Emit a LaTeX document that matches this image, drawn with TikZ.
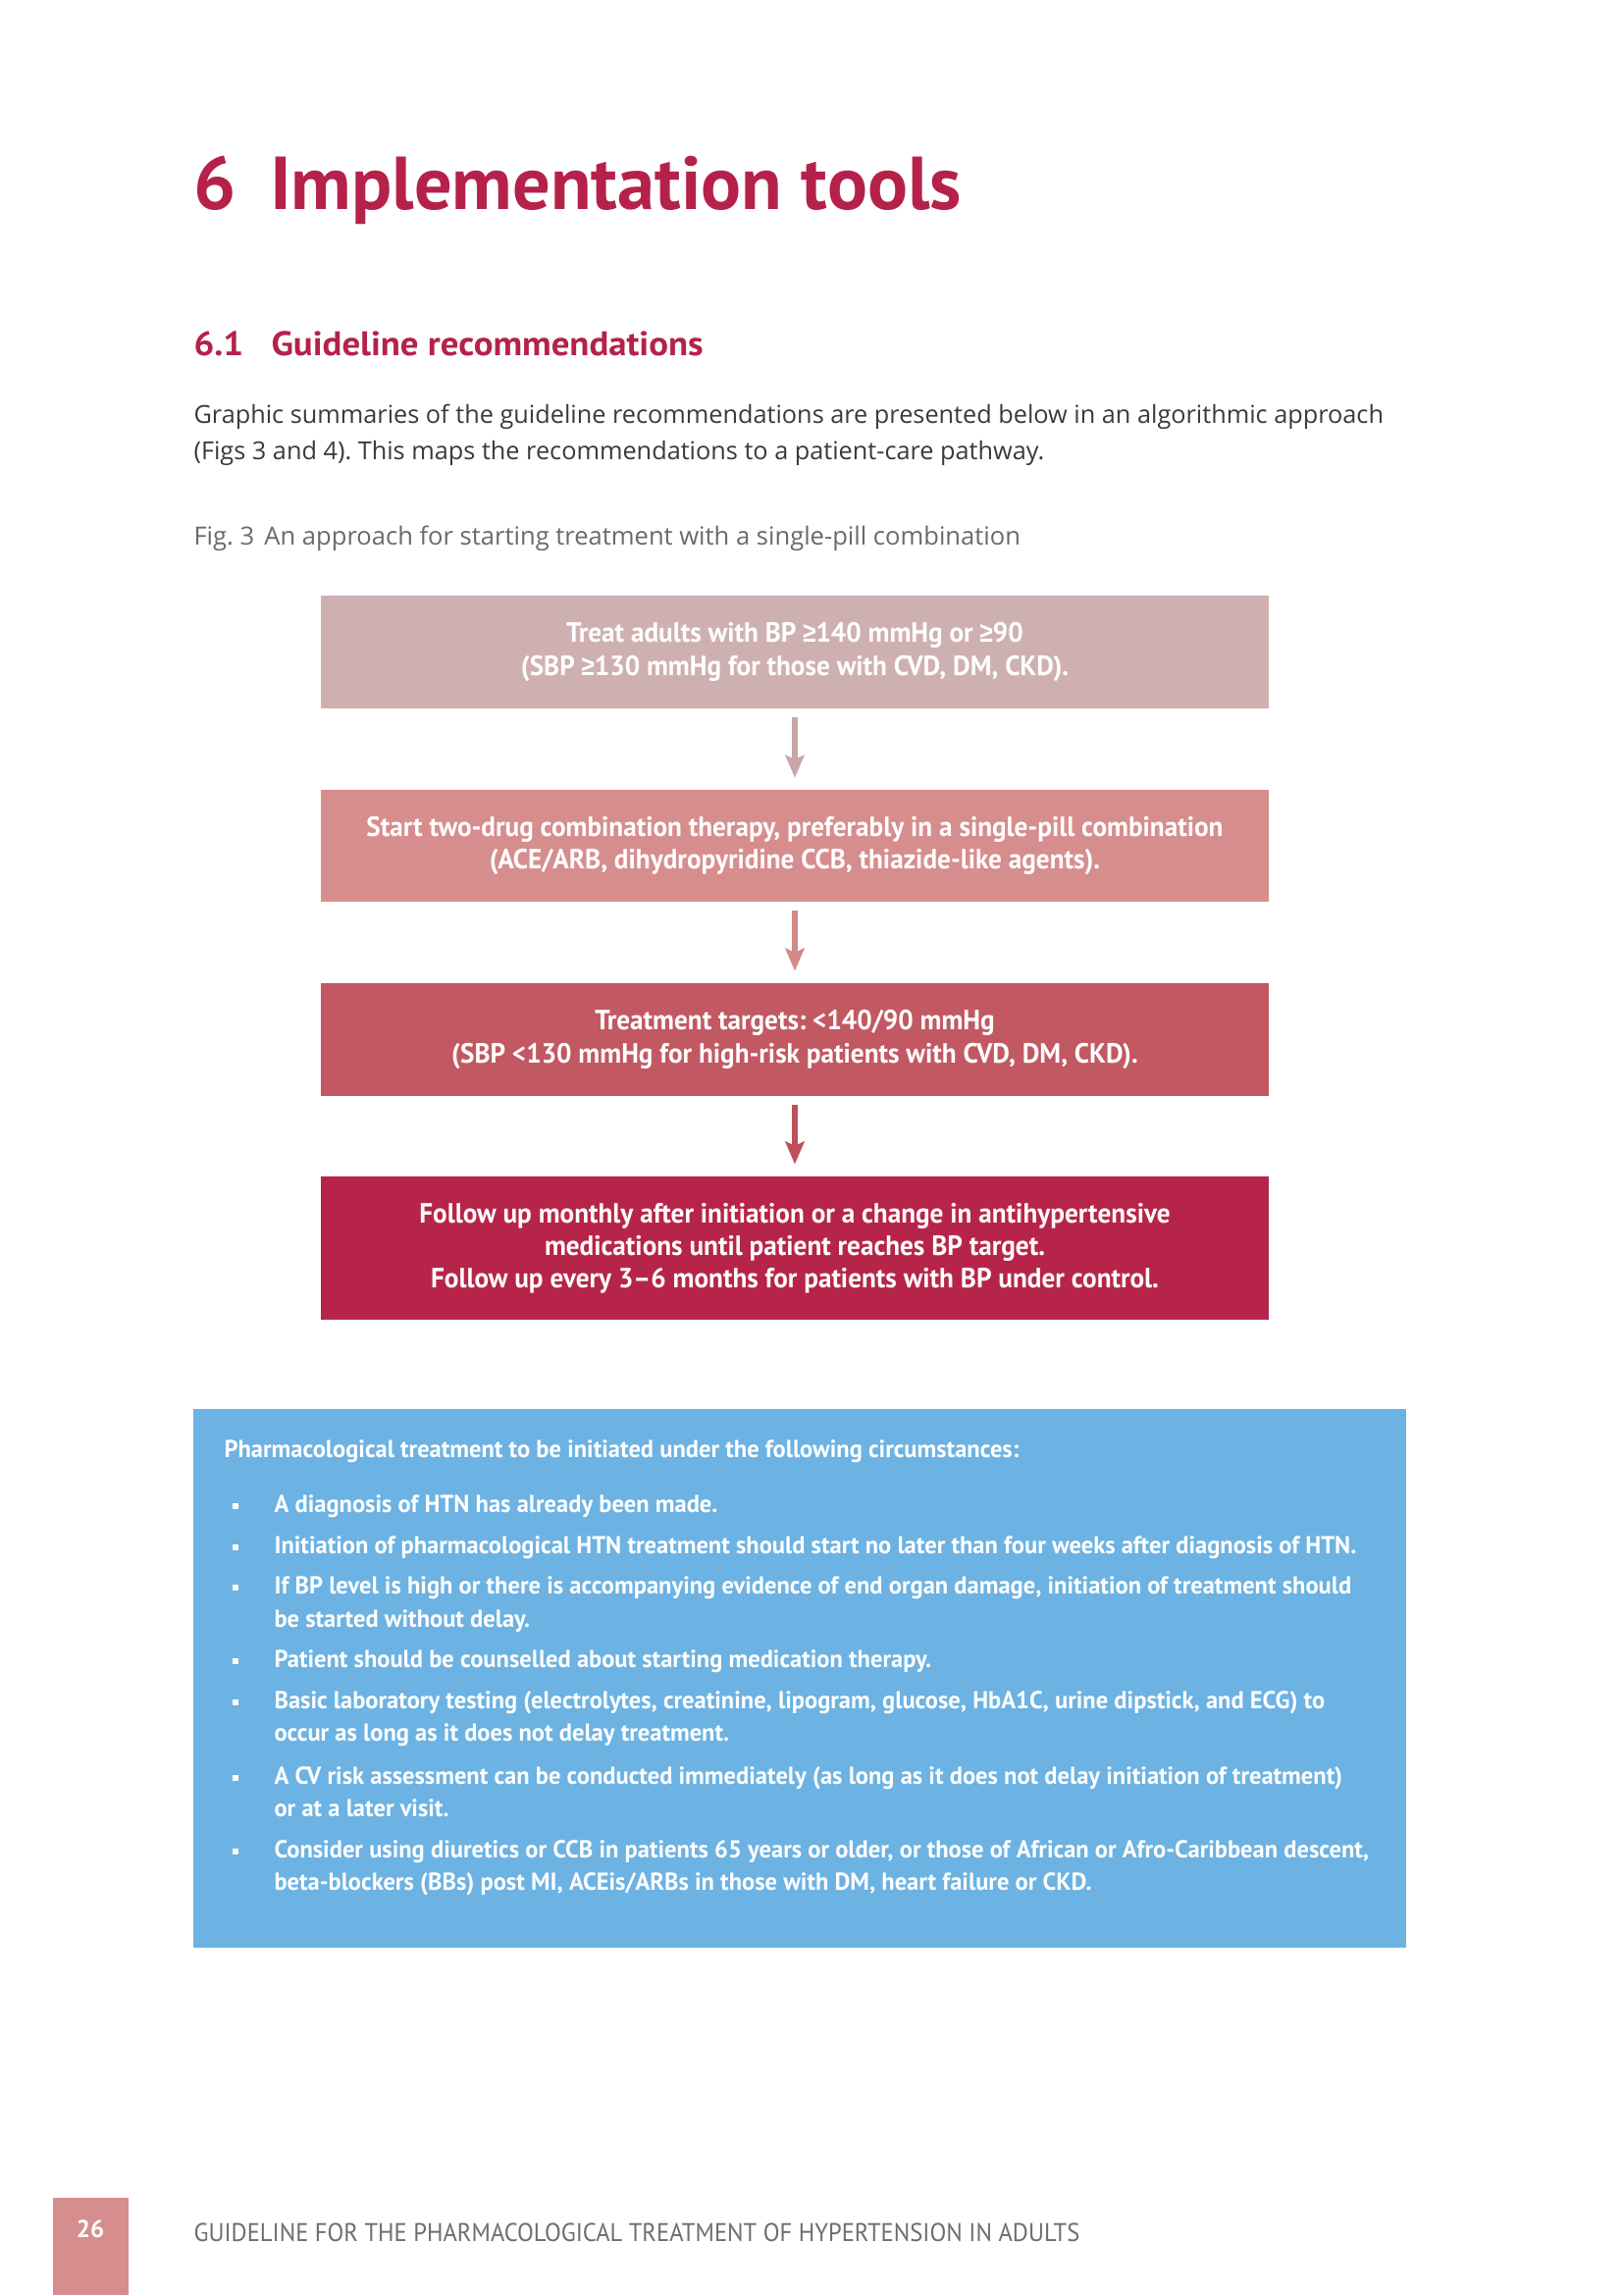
\documentclass[tikz,border=0pt]{standalone}
\usepackage{fontspec}
\setmainfont{Open Sans}
\frenchspacing
\newfontfamily\hfont{PT Sans}
\newfontfamily\sfont[FakeStretch=1.06]{PT Sans}
\newfontfamily\cfont[FakeStretch=0.96]{PT Sans}
\newfontfamily\bfont[FakeStretch=0.98]{PT Sans}
\newfontfamily\ffont[FakeStretch=0.94]{PT Sans}
\newfontfamily\symf[FakeStretch=0.85]{Liberation Sans}
\newcommand{\gq}{{\symf\bfseries ≥}}
\definecolor{crimson}{HTML}{B52149}
\definecolor{boxa}{HTML}{CFB0B1}
\definecolor{boxb}{HTML}{D68D8E}
\definecolor{boxc}{HTML}{C25862}
\definecolor{boxd}{HTML}{B72449}
\definecolor{arra}{HTML}{C9A7A8}
\definecolor{arrb}{HTML}{D3898A}
\definecolor{arrc}{HTML}{BF4F5C}
\definecolor{bluebox}{HTML}{6CB2E2}
\definecolor{bodygray}{HTML}{3A3A3A}
\definecolor{capgray}{HTML}{6A6A6A}
\definecolor{footgray}{HTML}{6D6E71}
\definecolor{pagebox}{HTML}{D68D8E}
\usetikzlibrary{arrows.meta}
\begin{document}
\begin{tikzpicture}[x=0.36pt,y=-0.36pt,
  flowbox/.style={rectangle, draw=none, minimum width=347.8pt, inner sep=0pt, align=center,
    text=white, font=\cfont\bfseries\fontsize{10.2}{11.9}\selectfont},
  flowarrow/.style={line width=2pt, -{Stealth[length=8.3pt,width=7pt,inset=1.6pt]},
    shorten <=3.2pt, shorten >=4.3pt},
  bodytext/.style={anchor=base west, inner sep=0pt, text=bodygray, font=\fontsize{9.1}{13.3}\selectfont},
  bluetext/.style={anchor=base west, inner sep=0pt, text=white, font=\bfont\bfseries\fontsize{9.0}{12.2}\selectfont, align=left},
  bulletmark/.style={rectangle, fill=white, minimum size=2.1pt, inner sep=0pt}
]
\useasboundingbox (0,0) rectangle (1654,2339);
\fill[white] (0,0) rectangle (1654,2339);

% headings
\node[anchor=base west, inner sep=0pt, text=crimson, font=\hfont\bfseries\fontsize{27.5}{30}\selectfont] (title) at (197,213) {6\hspace{0.45em}Implementation tools};
\node[anchor=base west, inner sep=0pt, text=crimson, font=\sfont\bfseries\fontsize{12.5}{14}\selectfont] (secnum) at (197,362) {6.1};
\node[anchor=base west, inner sep=0pt, text=crimson, font=\sfont\bfseries\fontsize{12.5}{14}\selectfont] (sectitle) at (276,362) {Guideline recommendations};

\node[bodytext] (para1) at (197,431) {Graphic summaries of the guideline recommendations are presented below in an algorithmic approach};
\node[bodytext] (para2) at (197,468) {(Figs 3 and 4). This maps the recommendations to a patient-care pathway.};
\node[bodytext, text=capgray, font=\fontsize{9.2}{13.3}\selectfont] (caption) at (197,555) {Fig. 3\hspace{0.4em}An approach for starting treatment with a single-pill combination};

% flow boxes
\node[flowbox, fill=boxa, minimum height=41.4pt] (b1) at (810,664.5)
  {Treat adults with BP \gq140 mmHg or \gq90\\(SBP \gq130 mmHg for those with CVD, DM, CKD).};
\node[flowbox, fill=boxb, minimum height=41.0pt] (b2) at (810,862)
  {Start two-drug combination therapy, preferably in a single-pill combination\\(ACE/ARB, dihydropyridine CCB, thiazide-like agents).};
\node[flowbox, fill=boxc, minimum height=41.4pt] (b3) at (810,1059.5)
  {Treatment targets: <140/90 mmHg\\(SBP <130 mmHg for high-risk patients with CVD, DM, CKD).};
\node[flowbox, fill=boxd, minimum height=52.6pt] (b4) at (810,1272)
  {Follow up monthly after initiation or a change in antihypertensive\\medications until patient reaches BP target.\\Follow up every 3–6 months for patients with BP under control.};

\draw[flowarrow, arra] (b1) -- (b2);
\draw[flowarrow, arrb] (b2) -- (b3);
\draw[flowarrow, arrc] (b3) -- (b4);

% blue box
\node[rectangle, fill=bluebox, minimum width=445pt, minimum height=197.6pt, inner sep=0pt] (blue) at (815,1710.5) {};
\node[bluetext] (bhead) at (228,1485) {Pharmacological treatment to be initiated under the following circumstances:};

\node[bulletmark] (m1) at (240,1535) {};
\node[bluetext] (i1) at (279,1541) {A diagnosis of HTN has already been made.};
\node[bulletmark] (m2) at (240,1577) {};
\node[bluetext] (i2) at (279,1583) {Initiation of pharmacological HTN treatment should start no later than four weeks after diagnosis of HTN.};
\node[bulletmark] (m3) at (240,1618) {};
\node[bluetext] (i3a) at (279,1624) {If BP level is high or there is accompanying evidence of end organ damage, initiation of treatment should};
\node[bluetext] (i3b) at (279,1658) {be started without delay.};
\node[bulletmark] (m4) at (240,1693) {};
\node[bluetext] (i4) at (279,1699) {Patient should be counselled about starting medication therapy.};
\node[bulletmark] (m5) at (240,1735) {};
\node[bluetext] (i5a) at (279,1741) {Basic laboratory testing (electrolytes, creatinine, lipogram, glucose, HbA1C, urine dipstick, and ECG) to};
\node[bluetext] (i5b) at (279,1774) {occur as long as it does not delay treatment.};
\node[bulletmark] (m6) at (240,1812) {};
\node[bluetext] (i6a) at (279,1818) {A CV risk assessment can be conducted immediately (as long as it does not delay initiation of treatment)};
\node[bluetext] (i6b) at (279,1851) {or at a later visit.};
\node[bulletmark] (m7) at (240,1887) {};
\node[bluetext] (i7a) at (279,1893) {Consider using diuretics or CCB in patients 65 years or older, or those of African or Afro-Caribbean descent,};
\node[bluetext] (i7b) at (279,1926) {beta-blockers (BBs) post MI, ACEis/ARBs in those with DM, heart failure or CKD.};

% footer
\node[rectangle, fill=pagebox, minimum width=27.7pt, minimum height=35.6pt, inner sep=0pt] (pbox) at (92.5,2289.5) {};
\node[anchor=base, inner sep=0pt, text=white, font=\hfont\bfseries\fontsize{9}{10}\selectfont] (pnum) at (92,2280) {26};
\node[anchor=base west, inner sep=0pt, text=footgray, font=\ffont\fontsize{9.4}{10}\selectfont] (foot) at (197,2284) {GUIDELINE FOR THE PHARMACOLOGICAL TREATMENT OF HYPERTENSION IN ADULTS};
\end{tikzpicture}
\end{document}
